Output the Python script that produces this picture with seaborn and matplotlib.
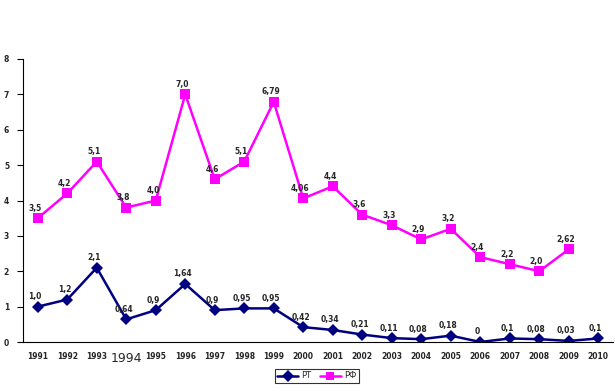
import numpy as np
import pandas as pd
import matplotlib
matplotlib.use("Agg")
import matplotlib.pyplot as plt
import seaborn as sns

# ============================================================
# Data
# ============================================================

years = list(range(1991, 2011))

rt_values = [1.0, 1.2, 2.1, 0.64, 0.9, 1.64, 0.9, 0.95, 0.95, 0.42,
             0.34, 0.21, 0.11, 0.08, 0.18, 0.0, 0.1, 0.08, 0.03, 0.1]
rt_labels = ["1,0", "1,2", "2,1", "0,64", "0,9", "1,64", "0,9", "0,95", "0,95", "0,42",
             "0,34", "0,21", "0,11", "0,08", "0,18", "0", "0,1", "0,08", "0,03", "0,1"]

rf_years = list(range(1991, 2010))
rf_values = [3.5, 4.2, 5.1, 3.8, 4.0, 7.0, 4.6, 5.1, 6.79, 4.06,
             4.4, 3.6, 3.3, 2.9, 3.2, 2.4, 2.2, 2.0, 2.62]
rf_labels = ["3,5", "4,2", "5,1", "3,8", "4,0", "7,0", "4,6", "5,1", "6,79", "4,06",
             "4,4", "3,6", "3,3", "2,9", "3,2", "2,4", "2,2", "2,0", "2,62"]

tick_labels = ["1991", "1992", "1993", "1994", "1995", "1996", "1997", "1998", "1999", "2000",
               "2001", "2002", "2003", "2004", "2005", "2006", "2007", "2008", "2009", "2010"]

series_names = ["РТ", "РФ"]
series_colors = ["#000080", "#FF00FF"]

df = pd.concat([
    pd.DataFrame({"year": years, "value": rt_values, "series": series_names[0]}),
    pd.DataFrame({"year": rf_years, "value": rf_values, "series": series_names[1]}),
])

# ============================================================
# Plot
# ============================================================

sns.set_style("white")
plt.rcParams["font.family"] = ["DejaVu Sans"]

fig = plt.figure(figsize=(6.15, 3.92), dpi=100)
ax = fig.add_axes([23 / 615, 1 - 342 / 392, 590 / 615, (342 - 59) / 392])

sns.lineplot(
    data=df,
    x="year",
    y="value",
    hue="series",
    style="series",
    markers={"РТ": "D", "РФ": "s"},
    dashes=False,
    palette=dict(zip(series_names, series_colors)),
    linewidth=1.8,
    markeredgewidth=0,
    ax=ax,
)

# marker sizes per series
for line, ms in zip(ax.lines, [6, 7]):
    line.set_markersize(ms)

# data labels
for x, y, t in zip(years, rt_values, rt_labels):
    ax.annotate(t, (x, y), xytext=(-2, 4), textcoords="offset points",
                ha="center", va="bottom", fontsize=5.5, fontweight="bold")
for x, y, t in zip(rf_years, rf_values, rf_labels):
    ax.annotate(t, (x, y), xytext=(-2, 4), textcoords="offset points",
                ha="center", va="bottom", fontsize=5.5, fontweight="bold")

# axes
ax.set_xlim(1990.5, 2010.5)
ax.set_ylim(0, 8)
ax.set_yticks(range(0, 9))
ax.set_yticklabels([str(v) for v in range(0, 9)], fontsize=5.5, fontweight="bold")
ax.set_xticks(years)
ax.set_xticklabels(tick_labels, fontsize=5.5, fontweight="bold")
ax.set_xticks(np.arange(1990.5, 2011, 1), minor=True)
ax.tick_params(axis="x", which="major", length=0, pad=7)
ax.tick_params(axis="x", which="minor", length=4, width=0.8, color="black", direction="out")
ax.tick_params(axis="y", length=4, width=0.8, color="black", direction="out", left=True, pad=6)

lbl = ax.get_xticklabels()[3]
lbl.set_fontsize(9)
lbl.set_fontweight("normal")

ax.set_xlabel("")
ax.set_ylabel("")
for side in ["top", "right"]:
    ax.spines[side].set_visible(False)
for side in ["left", "bottom"]:
    ax.spines[side].set_color("black")
    ax.spines[side].set_linewidth(0.8)

leg = ax.legend(
    loc="center",
    bbox_to_anchor=(317 / 615, 1 - 376 / 392),
    bbox_transform=fig.transFigure,
    ncol=2,
    fontsize=6,
    frameon=True,
    fancybox=False,
    edgecolor="black",
    borderpad=0.3,
    handlelength=2.5,
    columnspacing=1.0,
    handletextpad=0.4,
    title=None,
)
leg.get_frame().set_linewidth(0.8)

fig.savefig("out.png", dpi=100)
